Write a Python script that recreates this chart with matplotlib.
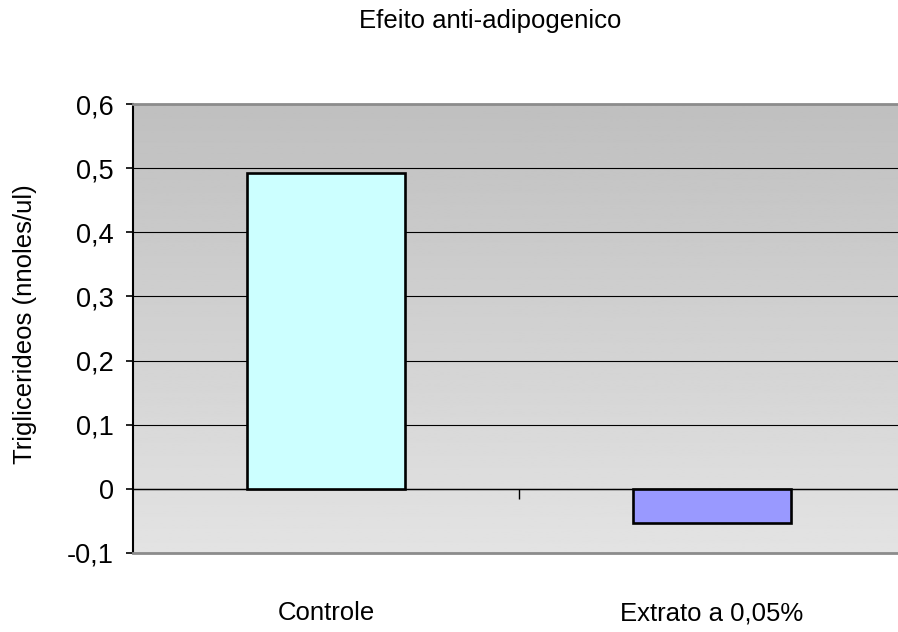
import numpy as np
import matplotlib
matplotlib.use("Agg")
import matplotlib.pyplot as plt
from matplotlib.ticker import FuncFormatter

# ---------------- Data ----------------
categories = ["Controle", "Extrato a 0,05%"]
values = [0.492, -0.053]
bar_colors = ["#CCFFFF", "#9999FF"]
y_ticks = [-0.1, 0, 0.1, 0.2, 0.3, 0.4, 0.5, 0.6]
title = "Efeito anti-adipogenico"
y_label = "Triglicerideos (nnoles/ul)"
# --------------------------------------

plt.rcParams['font.family'] = ['Liberation Sans', 'DejaVu Sans']

fig = plt.figure(figsize=(8.98, 6.32), dpi=100)
# plot area runs slightly past the right edge of the picture
ax = fig.add_axes([133/898, 1-553/632, 772/898, 449/632])

x = np.arange(len(categories))
ax.set_xlim(-0.5, len(categories) - 0.5)
ax.set_ylim(y_ticks[0], y_ticks[-1])

# gradient background, darker at the top
grad = np.linspace(0.89, 0.75, 256).reshape(-1, 1)
ax.imshow(grad, extent=[-0.5, len(categories) - 0.5, y_ticks[0], y_ticks[-1]],
          origin='lower', aspect='auto', cmap='gray', vmin=0, vmax=1, zorder=0)

ax.bar(x, values, width=0.41, color=bar_colors, edgecolor='black', linewidth=1.9, zorder=3)

# gridlines
ax.set_yticks(y_ticks)
ax.yaxis.grid(True, color='black', linewidth=0.8)
ax.set_axisbelow(True)
for gl in ax.get_ygridlines():
    gl.set_zorder(1)

ax.yaxis.set_major_formatter(FuncFormatter(
    lambda v, p: "0" if abs(v) < 1e-9 else f"{v:.1f}".replace('.', ',')))
ax.tick_params(axis='y', length=5, width=1.2, pad=9, labelsize=19.5, direction='out')

# category axis crosses at zero
ax.spines['bottom'].set_position(('data', 0))
ax.spines['bottom'].set_linewidth(1.0)
ax.spines['left'].set_linewidth(1.5)
ax.spines['top'].set_color('#8c8c8c')
ax.spines['top'].set_linewidth(2)
ax.spines['right'].set_visible(False)
ax.axhline(y_ticks[0], color='#8c8c8c', linewidth=2, clip_on=False, zorder=4)

ax.set_xticks(x, categories)
ax.set_xticks([0.5], minor=True)
ax.tick_params(axis='x', which='major', length=0, pad=81, labelsize=18.5)
ax.tick_params(axis='x', which='minor', length=7, width=1.0, direction='out')

fig.text(490/898, 1-21/632, title, ha='center', va='center', fontsize=18.5)
fig.text(25/898, 1-324/632, y_label, ha='center', va='center', rotation=90, fontsize=18.5)

fig.savefig("out.png", dpi=100)
